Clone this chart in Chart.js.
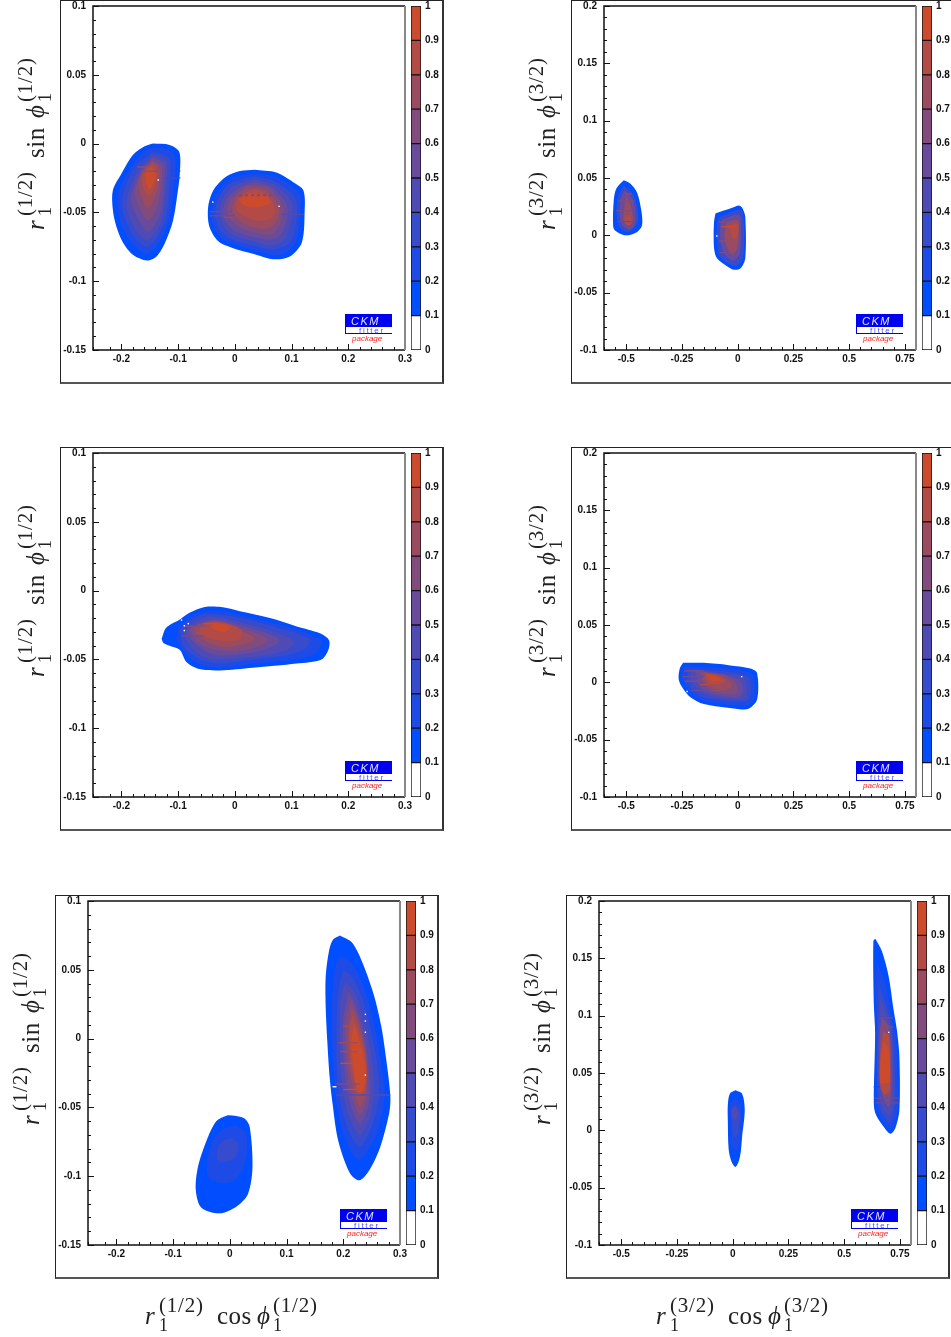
<!DOCTYPE html>
<html>
<head>
<meta charset="utf-8">
<script src="https://cdn.jsdelivr.net/npm/chart.js@4/dist/chart.umd.min.js"></script>
<style>
  html, body { margin: 0; padding: 0; background: #fff; overflow: hidden; }
  body { position: relative; width: 951px; height: 1337px; }
  canvas { position: absolute; }
  .frame { position: absolute; box-sizing: border-box; width: 384px; height: 384px;
           border-left: 1px solid #222; border-top: 1px solid #222;
           border-right: 2px solid #333; border-bottom: 2px solid #555; }
</style>
</head>
<body>
<script>
// Level values of the colour scale, index 0 is the white 0-0.1 band
const levelSteps = [0.1, 0.1, 0.1, 0.1, 0.1, 0.1, 0.1, 0.1, 0.1, 0.1];
const levelColors = ["#ffffff", "#004eff", "#1e4be6", "#374bcd", "#504bb4", "#694b9b",
                     "#824b7d", "#9b4b5f", "#b24b46", "#cd4b2d"];

// Contours: [level, [[x, y], ...]] in axis units
const panelA = [
  [1, [[-0.144,0],[-0.115,-0.001],[-0.098,-0.006],[-0.097,-0.022],[-0.102,-0.039],[-0.109,-0.056],[-0.123,-0.072],[-0.138,-0.082],[-0.155,-0.085],[-0.179,-0.081],[-0.197,-0.072],[-0.209,-0.060],[-0.215,-0.048],[-0.215,-0.034],[-0.200,-0.022],[-0.179,-0.008],[-0.159,-0.002]]],
  [2, [[-0.144,-0.003],[-0.118,-0.004],[-0.105,-0.011],[-0.105,-0.023],[-0.110,-0.039],[-0.117,-0.056],[-0.131,-0.070],[-0.153,-0.080],[-0.176,-0.075],[-0.191,-0.067],[-0.202,-0.057],[-0.206,-0.047],[-0.206,-0.036],[-0.192,-0.023],[-0.172,-0.011],[-0.157,-0.005]]],
  [3, [[-0.144,-0.006],[-0.115,-0.011],[-0.115,-0.029],[-0.123,-0.056],[-0.153,-0.075],[-0.182,-0.065],[-0.199,-0.043],[-0.179,-0.019]]],
  [4, [[-0.144,-0.008],[-0.121,-0.013],[-0.121,-0.031],[-0.129,-0.056],[-0.153,-0.070],[-0.176,-0.062],[-0.191,-0.043],[-0.173,-0.022]]],
  [5, [[-0.145,-0.010],[-0.125,-0.015],[-0.125,-0.032],[-0.133,-0.053],[-0.153,-0.064],[-0.170,-0.055],[-0.183,-0.041],[-0.168,-0.022]]],
  [6, [[-0.145,-0.012],[-0.129,-0.017],[-0.131,-0.034],[-0.139,-0.048],[-0.153,-0.056],[-0.166,-0.048],[-0.176,-0.036],[-0.165,-0.022]]],
  [7, [[-0.145,-0.013],[-0.133,-0.018],[-0.135,-0.031],[-0.144,-0.042],[-0.153,-0.047],[-0.162,-0.041],[-0.169,-0.031],[-0.162,-0.020]]],
  [8, [[-0.145,-0.015],[-0.137,-0.019],[-0.139,-0.029],[-0.147,-0.036],[-0.153,-0.038],[-0.159,-0.034],[-0.163,-0.026],[-0.157,-0.018]]],
  [9, [[-0.147,-0.017],[-0.140,-0.022],[-0.143,-0.028],[-0.150,-0.033],[-0.156,-0.028],[-0.156,-0.020]]],
  [1, [[0.035,-0.019],[0.073,-0.021],[0.103,-0.028],[0.121,-0.034],[0.123,-0.051],[0.118,-0.072],[0.097,-0.082],[0.068,-0.084],[0.032,-0.080],[-0.003,-0.076],[-0.029,-0.071],[-0.045,-0.060],[-0.047,-0.046],[-0.038,-0.034],[-0.015,-0.024],[0.009,-0.020]]],
  [2, [[0.035,-0.022],[0.071,-0.024],[0.100,-0.031],[0.115,-0.037],[0.115,-0.053],[0.109,-0.070],[0.091,-0.079],[0.068,-0.081],[0.032,-0.077],[-0.003,-0.073],[-0.025,-0.068],[-0.039,-0.058],[-0.040,-0.046],[-0.031,-0.036],[-0.009,-0.026],[0.012,-0.023]]],
  [3, [[0.035,-0.024],[0.068,-0.027],[0.097,-0.035],[0.109,-0.042],[0.108,-0.058],[0.097,-0.072],[0.068,-0.077],[0.032,-0.074],[-0.003,-0.070],[-0.024,-0.064],[-0.034,-0.054],[-0.031,-0.042],[-0.012,-0.030],[0.012,-0.026]]],
  [4, [[0.035,-0.026],[0.065,-0.029],[0.091,-0.037],[0.102,-0.046],[0.097,-0.060],[0.085,-0.071],[0.062,-0.074],[0.032,-0.071],[0,-0.067],[-0.018,-0.061],[-0.026,-0.052],[-0.024,-0.042],[-0.006,-0.032],[0.015,-0.028]]],
  [5, [[0.035,-0.028],[0.062,-0.031],[0.085,-0.040],[0.094,-0.048],[0.088,-0.060],[0.073,-0.069],[0.032,-0.068],[0.003,-0.064],[-0.014,-0.058],[-0.021,-0.049],[-0.015,-0.041],[0,-0.034],[0.018,-0.030]]],
  [6, [[0.035,-0.030],[0.059,-0.032],[0.079,-0.041],[0.086,-0.049],[0.079,-0.059],[0.065,-0.066],[0.032,-0.064],[0.006,-0.060],[-0.009,-0.054],[-0.014,-0.048],[-0.006,-0.040],[0.009,-0.034],[0.021,-0.031]]],
  [7, [[0.035,-0.032],[0.056,-0.034],[0.072,-0.042],[0.078,-0.049],[0.071,-0.058],[0.053,-0.062],[0.029,-0.060],[0.009,-0.056],[-0.004,-0.049],[0,-0.041],[0.015,-0.034]]],
  [8, [[0.035,-0.033],[0.053,-0.036],[0.066,-0.042],[0.071,-0.049],[0.062,-0.055],[0.038,-0.056],[0.018,-0.053],[0.003,-0.048],[0.004,-0.041],[0.018,-0.036]]],
  [9, [[0.035,-0.036],[0.056,-0.038],[0.062,-0.043],[0.040,-0.046],[0.018,-0.045],[0.008,-0.041],[0.021,-0.037]]]
];
const panelB = [
  [1, [[-0.511,0.048],[-0.481,0.045],[-0.451,0.037],[-0.433,0.022],[-0.429,0.009],[-0.451,0.003],[-0.504,0],[-0.549,0.004],[-0.559,0.008],[-0.556,0.031],[-0.544,0.041]]],
  [3, [[-0.511,0.044],[-0.467,0.035],[-0.449,0.022],[-0.449,0.011],[-0.489,0.003],[-0.534,0.008],[-0.541,0.031]]],
  [5, [[-0.508,0.040],[-0.473,0.032],[-0.459,0.022],[-0.463,0.009],[-0.489,0.005],[-0.523,0.010],[-0.529,0.029]]],
  [7, [[-0.497,0.034],[-0.479,0.025],[-0.470,0.013],[-0.489,0.008],[-0.511,0.012],[-0.508,0.026]]],
  [8, [[-0.489,0.018],[-0.474,0.013],[-0.482,0.009],[-0.504,0.010],[-0.504,0.015]]],
  [1, [[-0.100,0.019],[-0.025,0.024],[0.005,0.026],[0.020,0.024],[0.034,0.016],[0.034,-0.020],[0.012,-0.029],[-0.018,-0.030],[-0.048,-0.027],[-0.093,-0.020],[-0.105,-0.013],[-0.108,-0.001],[-0.106,0.012]]],
  [3, [[-0.085,0.016],[0.012,0.022],[0.027,0.013],[0.024,-0.019],[-0.010,-0.027],[-0.078,-0.019],[-0.093,-0.004],[-0.093,0.010]]],
  [5, [[-0.070,0.014],[0.005,0.018],[0.015,0.008],[0.009,-0.016],[-0.018,-0.022],[-0.060,-0.016],[-0.078,-0.004],[-0.078,0.008]]],
  [7, [[-0.048,0.012],[0,0.013],[0.005,0.003],[-0.003,-0.011],[-0.025,-0.017],[-0.048,-0.010],[-0.060,0]]],
  [8, [[-0.040,0.008],[-0.003,0.010],[0,0],[-0.018,-0.004],[-0.033,0.003]]]
];
const panelC = [
  [1, [[-0.129,-0.035],[-0.121,-0.027],[-0.097,-0.021],[-0.079,-0.016],[-0.053,-0.012],[-0.024,-0.012],[0.009,-0.015],[0.062,-0.020],[0.109,-0.026],[0.150,-0.031],[0.166,-0.036],[0.165,-0.043],[0.153,-0.050],[0.109,-0.053],[0.032,-0.056],[-0.026,-0.058],[-0.062,-0.057],[-0.085,-0.052],[-0.097,-0.043],[-0.115,-0.040],[-0.126,-0.038]]],
  [2, [[-0.100,-0.027],[-0.079,-0.019],[-0.050,-0.015],[-0.021,-0.015],[0.009,-0.018],[0.062,-0.023],[0.109,-0.028],[0.144,-0.034],[0.154,-0.037],[0.141,-0.046],[0.103,-0.050],[0.032,-0.053],[-0.026,-0.056],[-0.059,-0.054],[-0.079,-0.049],[-0.094,-0.042],[-0.103,-0.035]]],
  [3, [[-0.097,-0.029],[-0.076,-0.021],[-0.047,-0.017],[0.009,-0.020],[0.068,-0.026],[0.109,-0.031],[0.133,-0.036],[0.121,-0.043],[0.091,-0.047],[0.032,-0.050],[-0.026,-0.053],[-0.056,-0.051],[-0.076,-0.046],[-0.091,-0.040]]],
  [4, [[-0.091,-0.030],[-0.071,-0.023],[-0.041,-0.019],[0.009,-0.023],[0.062,-0.029],[0.094,-0.034],[0.106,-0.037],[0.091,-0.043],[0.056,-0.047],[0.009,-0.049],[-0.032,-0.050],[-0.056,-0.048],[-0.074,-0.042],[-0.085,-0.036]]],
  [5, [[-0.085,-0.029],[-0.065,-0.024],[-0.035,-0.021],[0.009,-0.025],[0.056,-0.031],[0.079,-0.036],[0.065,-0.041],[0.032,-0.045],[-0.009,-0.047],[-0.041,-0.046],[-0.062,-0.041],[-0.076,-0.036]]],
  [6, [[-0.079,-0.028],[-0.059,-0.024],[-0.029,-0.022],[0.009,-0.027],[0.038,-0.031],[0.059,-0.036],[0.038,-0.041],[0.003,-0.044],[-0.032,-0.043],[-0.056,-0.040],[-0.071,-0.035]]],
  [7, [[-0.071,-0.027],[-0.050,-0.023],[-0.026,-0.023],[0.006,-0.028],[0.035,-0.035],[0.015,-0.039],[-0.018,-0.041],[-0.044,-0.038],[-0.065,-0.033]]],
  [8, [[-0.062,-0.026],[-0.038,-0.023],[-0.015,-0.024],[0.012,-0.029],[0.009,-0.035],[-0.015,-0.037],[-0.041,-0.035],[-0.059,-0.032]]],
  [9, [[-0.041,-0.025],[-0.024,-0.024],[-0.009,-0.027],[-0.018,-0.030],[-0.032,-0.029],[-0.041,-0.027]]]
];
const panelD = [
  [1, [[-0.245,0.017],[-0.152,0.017],[-0.040,0.015],[0.057,0.012],[0.087,0.008],[0.087,-0.015],[0.049,-0.023],[-0.010,-0.023],[-0.152,-0.019],[-0.212,-0.013],[-0.250,-0.004],[-0.265,0.003],[-0.260,0.012]]],
  [2, [[-0.235,0.014],[-0.040,0.012],[0.045,0.009],[0.072,0.005],[0.072,-0.014],[0.039,-0.020],[-0.152,-0.016],[-0.205,-0.010],[-0.239,-0.001],[-0.250,0.009]]],
  [3, [[-0.220,0.012],[-0.040,0.009],[0.035,0.006],[0.057,0.002],[0.054,-0.013],[0.027,-0.017],[-0.152,-0.013],[-0.197,-0.007],[-0.227,0.001]]],
  [4, [[-0.205,0.011],[-0.040,0.007],[0.027,0.004],[0.039,-0.011],[0.012,-0.015],[-0.137,-0.011],[-0.182,-0.005],[-0.212,0.003]]],
  [5, [[-0.190,0.010],[-0.048,0.006],[0.012,0.001],[0.020,-0.010],[-0.010,-0.013],[-0.130,-0.009],[-0.175,-0.002]]],
  [6, [[-0.167,0.009],[-0.055,0.006],[-0.003,-0.002],[-0.010,-0.010],[-0.122,-0.007],[-0.160,0.001]]],
  [7, [[-0.152,0.009],[-0.070,0.005],[-0.025,-0.002],[-0.055,-0.007],[-0.122,-0.004],[-0.155,0.003]]],
  [8, [[-0.145,0.008],[-0.085,0.006],[-0.055,0.001],[-0.100,-0.002],[-0.137,0.001]]],
  [9, [[-0.137,0.007],[-0.095,0.005],[-0.078,0.002],[-0.115,0.001]]]
];
const panelE = [
  [1, [[0.009,-0.056],[0.026,-0.058],[0.035,-0.064],[0.040,-0.093],[0.032,-0.113],[0.012,-0.122],[-0.018,-0.127],[-0.050,-0.123],[-0.060,-0.110],[-0.056,-0.093],[-0.041,-0.074],[-0.024,-0.060],[-0.006,-0.056]]],
  [2, [[0.009,-0.063],[0.026,-0.067],[0.031,-0.076],[0.026,-0.091],[0.009,-0.103],[-0.018,-0.105],[-0.038,-0.100],[-0.040,-0.091],[-0.032,-0.076],[-0.015,-0.067]]],
  [3, [[0.003,-0.072],[0.015,-0.077],[0.012,-0.085],[0,-0.089],[-0.021,-0.089],[-0.022,-0.081],[-0.015,-0.075]]],
  [1, [[0.194,0.075],[0.215,0.070],[0.232,0.057],[0.253,0.033],[0.267,0.009],[0.276,-0.016],[0.283,-0.042],[0.281,-0.054],[0.265,-0.079],[0.247,-0.095],[0.229,-0.103],[0.212,-0.098],[0.191,-0.074],[0.181,-0.047],[0.176,-0.028],[0.172,-0.003],[0.169,0.023],[0.169,0.045],[0.175,0.064],[0.182,0.072]]],
  [2, [[0.197,0.060],[0.212,0.056],[0.229,0.045],[0.247,0.023],[0.259,0.001],[0.267,-0.020],[0.273,-0.042],[0.259,-0.069],[0.244,-0.081],[0.229,-0.088],[0.215,-0.083],[0.200,-0.069],[0.188,-0.047],[0.183,-0.023],[0.180,0.001],[0.180,0.026],[0.184,0.047],[0.189,0.057]]],
  [3, [[0.200,0.050],[0.215,0.045],[0.232,0.031],[0.247,0.009],[0.259,-0.016],[0.263,-0.042],[0.250,-0.064],[0.229,-0.079],[0.212,-0.069],[0.197,-0.050],[0.189,-0.023],[0.188,0.006],[0.191,0.033]]],
  [4, [[0.204,0.041],[0.218,0.035],[0.234,0.016],[0.247,-0.006],[0.254,-0.035],[0.247,-0.057],[0.229,-0.070],[0.213,-0.059],[0.201,-0.042],[0.195,-0.018],[0.194,0.009],[0.196,0.030]]],
  [5, [[0.209,0.034],[0.220,0.026],[0.235,0.006],[0.244,-0.016],[0.247,-0.042],[0.240,-0.054],[0.229,-0.062],[0.216,-0.052],[0.206,-0.035],[0.200,-0.011],[0.200,0.013]]],
  [6, [[0.213,0.029],[0.224,0.018],[0.236,-0.001],[0.242,-0.023],[0.241,-0.045],[0.229,-0.056],[0.219,-0.047],[0.209,-0.030],[0.204,-0.008],[0.204,0.013]]],
  [7, [[0.215,0.023],[0.226,0.011],[0.238,-0.008],[0.241,-0.028],[0.238,-0.042],[0.229,-0.049],[0.220,-0.040],[0.212,-0.023],[0.208,0.001]]],
  [8, [[0.216,0.017],[0.228,0.004],[0.240,-0.015],[0.240,-0.035],[0.229,-0.042],[0.220,-0.032],[0.213,-0.015],[0.210,0.004]]],
  [9, [[0.219,0.011],[0.229,-0.003],[0.238,-0.018],[0.236,-0.037],[0.226,-0.039],[0.218,-0.020],[0.214,-0.003]]]
];
const panelF = [
  [1, [[0.012,0.035],[0.042,0.032],[0.054,0.018],[0.042,-0.006],[0.036,-0.019],[0.027,-0.027],[0.012,-0.032],[-0.006,-0.027],[-0.018,-0.017],[-0.022,0.009],[-0.022,0.022],[-0.013,0.032]]],
  [2, [[0.012,0.029],[0.037,0.021],[0.034,-0.006],[0.020,-0.017],[-0.007,-0.014],[-0.010,0.009],[-0.013,0.022]]],
  [3, [[0.012,0.023],[0.032,0.016],[0.023,-0.003],[0.005,-0.006],[-0.003,0.009],[-0.007,0.018]]],
  [4, [[0.011,0.021],[0.023,0.015],[0.012,0.009],[-0.003,0.012],[-0.003,0.018]]],
  [1, [[0.640,0.167],[0.670,0.156],[0.700,0.134],[0.722,0.105],[0.737,0.087],[0.748,0.064],[0.748,0.018],[0.730,0.002],[0.707,-0.003],[0.670,0.005],[0.640,0.015],[0.633,0.024],[0.639,0.085],[0.633,0.111],[0.631,0.165]]],
  [2, [[0.648,0.146],[0.685,0.128],[0.711,0.099],[0.730,0.082],[0.738,0.058],[0.741,0.021],[0.723,0.005],[0.705,0.002],[0.670,0.009],[0.648,0.021],[0.645,0.067],[0.645,0.096],[0.640,0.125]]],
  [3, [[0.655,0.127],[0.685,0.111],[0.715,0.090],[0.725,0.061],[0.729,0.024],[0.705,0.007],[0.663,0.018],[0.648,0.038],[0.651,0.096]]],
  [4, [[0.663,0.115],[0.693,0.099],[0.715,0.082],[0.720,0.038],[0.715,0.019],[0.700,0.013],[0.670,0.021],[0.655,0.038],[0.655,0.090]]],
  [6, [[0.670,0.099],[0.700,0.090],[0.711,0.067],[0.711,0.035],[0.700,0.021],[0.675,0.029],[0.660,0.053],[0.660,0.085]]],
  [8, [[0.675,0.086],[0.700,0.083],[0.705,0.061],[0.705,0.035],[0.685,0.031],[0.663,0.037],[0.660,0.061]]],
  [9, [[0.678,0.077],[0.700,0.071],[0.705,0.043],[0.685,0.041],[0.663,0.042],[0.663,0.061]]]
];

// Horizontal streaks: [level, x from, x to, y]
const streaksA = [[9,-0.155,-0.146,-0.023],[7,-0.172,-0.150,-0.017],[6,-0.165,-0.135,-0.020],[3,-0.125,-0.096,-0.025],[2,-0.115,-0.096,-0.020],
                  [7,-0.020,0.002,-0.0535],[5,-0.044,-0.005,-0.0495],[5,-0.044,0,-0.0525],[4,0.082,0.122,-0.0515]];
const streaksB = [[6,-0.545,-0.475,0.0215],[6,-0.535,-0.465,0.030],[5,-0.540,-0.470,0.012],[7,-0.505,-0.475,0.036],
                  [9,-0.075,-0.010,0.0075],[7,-0.085,-0.030,-0.005],[6,-0.085,-0.030,0.0115],[6,-0.080,-0.020,-0.015]];
const streaksC = [[9,-0.055,-0.030,-0.024],[8,-0.070,-0.020,-0.031],[6,-0.090,-0.050,-0.026],[5,-0.095,-0.055,-0.033]];
const streaksD = [[6,-0.240,-0.150,0.010],[6,-0.240,-0.140,0.001],[5,-0.210,-0.120,-0.007],[7,-0.150,-0.080,-0.007],[5,-0.250,-0.150,0.005],[8,-0.170,-0.120,-0.002]];
const streaksE = [[9,0.195,0.236,-0.018],[9,0.200,0.236,-0.037],[8,0.200,0.224,0.009],[7,0.191,0.226,-0.003],[4,0.188,0.283,-0.041],[7,0.195,0.226,-0.0095],[6,0.188,0.229,-0.033],[0,0.181,0.188,-0.035]];
const streaksF = [[5,0.635,0.750,0.028],[1,0.633,0.660,0.038],[6,0.660,0.720,0.090],[5,0.655,0.720,0.098],[5,0.640,0.745,0.024]];

// The broken row of bins across the right-hand island of the first panel
const dottedRowA = [[5,-0.003,0.079,-0.0376]];

// White single-bin holes: [x, y]
const specksA = [[-0.135,-0.0265],[0.078,-0.0456],[-0.039,-0.0425]];
const specksB = [[-0.094,-0.0006]];
const specksC = [[-0.094,-0.0214],[-0.089,-0.0255],[-0.082,-0.024],[-0.089,-0.029]];
const specksD = [[0.018,0.005],[-0.227,-0.008]];
const specksE = [[0.239,0.0176],[0.239,0.0128],[0.239,0.0046],[0.239,-0.0265]];
const specksF = [[0.700,0.0854]];

// Axis ranges and tick steps: min, max, major, minor
const xRangeHalf = [-0.25, 0.3, 0.1, 0.02];
const yRangeHalf = [-0.15, 0.1, 0.05, 0.01];
const xRangeThreeHalf = [-0.6, 0.8, 0.25, 0.05];
const yRangeThreeHalf = [-0.1, 0.2, 0.05, 0.01];

const tickFont = { family: "'Liberation Sans', Arial, sans-serif", size: 10, weight: "bold" };
const half = "(1/2)";
const threeHalf = "(3/2)";

// plot-area corner of each panel on the page
const panels = [
  { left: 93,  top: 6,   contours: panelA, streaks: streaksA, dotted: dottedRowA, specks: specksA, xr: xRangeHalf, yr: yRangeHalf, sup: half },
  { left: 604, top: 6,   contours: panelB, streaks: streaksB, dotted: [], specks: specksB, xr: xRangeThreeHalf, yr: yRangeThreeHalf, sup: threeHalf },
  { left: 93,  top: 453, contours: panelC, streaks: streaksC, dotted: [], specks: specksC, xr: xRangeHalf, yr: yRangeHalf, sup: half },
  { left: 604, top: 453, contours: panelD, streaks: streaksD, dotted: [], specks: specksD, xr: xRangeThreeHalf, yr: yRangeThreeHalf, sup: threeHalf },
  { left: 88,  top: 901, contours: panelE, streaks: streaksE, dotted: [], specks: specksE, xr: xRangeHalf, yr: yRangeHalf, sup: half, xTitle: true },
  { left: 599, top: 901, contours: panelF, streaks: streaksF, dotted: [], specks: specksF, xr: xRangeThreeHalf, yr: yRangeThreeHalf, sup: threeHalf, xTitle: true }
];

const isMajor = (v, step) => Math.abs(v / step - Math.round(v / step)) < 1e-6;

// r_1^(k) sin phi_1^(k), written along the current x direction
function drawMath(ctx, fn, sup) {
  const serif = "'Liberation Serif', 'Times New Roman', serif";
  const parts = [
    ["r", 0, 0, "italic 25px", "0px"],
    ["1", 14, 7, "18px", "0px"],
    [sup, 14, -12, "21px", "0.8px"],
    [fn, 72, 0, "25px", "0.5px"],
    ["\u03D5", 112, 0, "italic 25px", "0px"],
    ["1", 128, 7, "18px", "0px"],
    [sup, 128, -12, "21px", "0.8px"]
  ];
  ctx.fillStyle = "#222";
  ctx.textAlign = "left";
  ctx.textBaseline = "alphabetic";
  parts.forEach(([text, x, y, font, spacing]) => {
    ctx.font = font + " " + serif;
    ctx.letterSpacing = spacing;
    ctx.fillText(text, x, y);
  });
  ctx.letterSpacing = "0px";
}

function drawLogo(ctx, l, t) {
  ctx.fillStyle = "#0000f0";
  ctx.fillRect(l, t, 47, 13);
  ctx.fillRect(l, t + 13, 1, 7);
  ctx.fillRect(l, t + 19, 47, 1);
  ctx.textAlign = "left";
  ctx.textBaseline = "alphabetic";
  ctx.font = "italic 11px 'Liberation Sans', sans-serif";
  ctx.letterSpacing = "1.5px";
  ctx.fillStyle = "#dfe0ff";
  ctx.fillText("CKM", l + 6, t + 11);
  ctx.font = "8px 'Liberation Sans', sans-serif";
  ctx.letterSpacing = "1.7px";
  ctx.fillStyle = "#4a55ff";
  ctx.fillText("fitter", l + 14, t + 18.5);
  ctx.font = "italic 8px 'Liberation Sans', sans-serif";
  ctx.letterSpacing = "0px";
  ctx.fillStyle = "#f22";
  ctx.fillText("package", l + 7, t + 27);
}

const plotDecor = {
  id: "plotDecor",
  afterDraw(chart, args, opts) {
    const { ctx, chartArea: a, scales } = chart;
    ctx.save();

    // ticks point into the plot, so they are drawn here from the scales
    ctx.strokeStyle = "#111";
    ctx.lineWidth = 1;
    ctx.beginPath();
    scales.x.ticks.forEach(t => {
      const px = Math.round(scales.x.getPixelForValue(t.value)) + 0.5;
      const len = isMajor(t.value, opts.xr[2]) ? 6 : 3;
      ctx.moveTo(px, a.bottom);
      ctx.lineTo(px, a.bottom - len);
    });
    scales.y.ticks.forEach(t => {
      const py = Math.round(scales.y.getPixelForValue(t.value)) + 0.5;
      const len = isMajor(t.value, opts.yr[2]) ? 6 : 3;
      ctx.moveTo(a.left, py);
      ctx.lineTo(a.left + len, py);
    });
    ctx.stroke();

    ctx.lineWidth = 1.5;
    ctx.beginPath();
    ctx.moveTo(a.right, a.top);
    ctx.lineTo(a.left, a.top);
    ctx.lineTo(a.left, a.bottom);
    ctx.lineTo(a.right, a.bottom);
    ctx.stroke();
    ctx.strokeStyle = "#888";
    ctx.lineWidth = 2;
    ctx.beginPath();
    ctx.moveTo(a.right, a.top);
    ctx.lineTo(a.right, a.bottom);
    ctx.stroke();

    drawLogo(ctx, a.right - 60, a.bottom - 36);

    ctx.save();
    ctx.translate(a.left - 49.5, a.top + 224);
    ctx.rotate(-Math.PI / 2);
    drawMath(ctx, "sin", opts.sup);
    ctx.restore();

    if (opts.xTitle) {
      ctx.save();
      ctx.translate(a.left + 57, a.bottom + 79);
      drawMath(ctx, "cos", opts.sup);
      ctx.restore();
    }
    ctx.restore();
  }
};

function addCanvas(left, top, w, h) {
  const c = document.createElement("canvas");
  c.width = w;
  c.height = h;
  c.style.left = left + "px";
  c.style.top = top + "px";
  document.body.appendChild(c);
  return c;
}

const gutterLeft = 88;
const gutterBottom = 90;
// room for the last x label
const gutterRight = 7;

// keep the plot box exactly where it is on the page, labels may overhang it
const dropMargins = s => {
  s.paddingTop = s.paddingBottom = s.paddingLeft = s.paddingRight = 0;
};

panels.forEach(p => {
  const frame = document.createElement("div");
  frame.className = "frame";
  frame.style.left = (p.left - 33) + "px";
  frame.style.top = (p.top - 6) + "px";
  document.body.appendChild(frame);

  const datasets = [];
  p.contours.forEach(([level, pts]) => {
    const closed = pts.concat([pts[0]]);
    datasets.push({
      data: closed.map(([x, y]) => ({ x, y })),
      showLine: true,
      fill: "shape",
      backgroundColor: levelColors[level],
      borderWidth: 0,
      pointRadius: 0,
      tension: 0.3,
      order: -level
    });
  });
  p.streaks.forEach(([level, x0, x1, y]) => {
    datasets.push({
      data: [{ x: x0, y }, { x: x1, y }],
      showLine: true,
      fill: false,
      borderColor: levelColors[level],
      borderWidth: 1.3,
      pointRadius: 0,
      order: -15
    });
  });
  p.dotted.forEach(([level, x0, x1, y]) => {
    datasets.push({
      data: [{ x: x0, y }, { x: x1, y }],
      showLine: true,
      fill: false,
      borderColor: levelColors[level],
      borderWidth: 2,
      borderDash: [3, 3],
      pointRadius: 0,
      order: -16
    });
  });
  datasets.push({
    data: p.specks.map(([x, y]) => ({ x, y })),
    showLine: false,
    pointStyle: "rect",
    pointRadius: 1,
    pointBorderWidth: 0,
    pointBackgroundColor: "#fff",
    order: -20
  });

  const axis = (range, extra) => ({
    type: "linear",
    min: range[0],
    max: range[1],
    grid: { display: false, drawTicks: false },
    border: { display: false },
    ticks: {
      stepSize: range[3],
      autoSkip: false,
      maxRotation: 0,
      color: "#111",
      font: tickFont,
      callback: v => isMajor(v, range[2]) ? String(+v.toFixed(2)) : "",
      ...extra
    }
  });

  new Chart(addCanvas(p.left - gutterLeft, p.top - 6, gutterLeft + 312 + gutterRight, 344 + 6 + gutterBottom), {
    type: "scatter",
    data: { datasets },
    plugins: [plotDecor],
    options: {
      responsive: false,
      animation: false,
      events: [],
      layout: { padding: { top: 6, right: gutterRight, left: 0, bottom: 0 } },
      scales: {
        x: { ...axis(p.xr, { padding: 3 }), afterFit: s => { s.height = gutterBottom; dropMargins(s); } },
        y: { ...axis(p.yr, { padding: 7 }), afterFit: s => { s.width = gutterLeft; dropMargins(s); } }
      },
      plugins: {
        legend: { display: false },
        tooltip: { enabled: false },
        plotDecor: { xr: p.xr, yr: p.yr, sup: p.sup, xTitle: p.xTitle }
      }
    }
  });

  // colour scale beside the plot
  new Chart(addCanvas(p.left + 318, p.top - 6, 36, 356), {
    type: "bar",
    data: {
      labels: [""],
      datasets: levelColors.map((color, i) => ({
        data: [levelSteps[i]],
        backgroundColor: color,
        borderColor: "#111",
        borderWidth: 1,
        borderSkipped: false,
        barPercentage: 1,
        categoryPercentage: 1
      }))
    },
    options: {
      responsive: false,
      animation: false,
      events: [],
      layout: { padding: { top: 6, bottom: 6, left: 0, right: 0 } },
      scales: {
        x: { display: false, stacked: true },
        y: {
          position: "right",
          stacked: true,
          min: 0,
          max: 1,
          grid: { display: false, drawTicks: false },
          border: { display: false },
          afterFit: s => { s.width = 26; dropMargins(s); },
          ticks: {
            stepSize: 0.1,
            padding: 4,
            color: "#111",
            font: tickFont,
            callback: v => String(+v.toFixed(1))
          }
        }
      },
      plugins: { legend: { display: false }, tooltip: { enabled: false } }
    }
  });
});
</script>
</body>
</html>
